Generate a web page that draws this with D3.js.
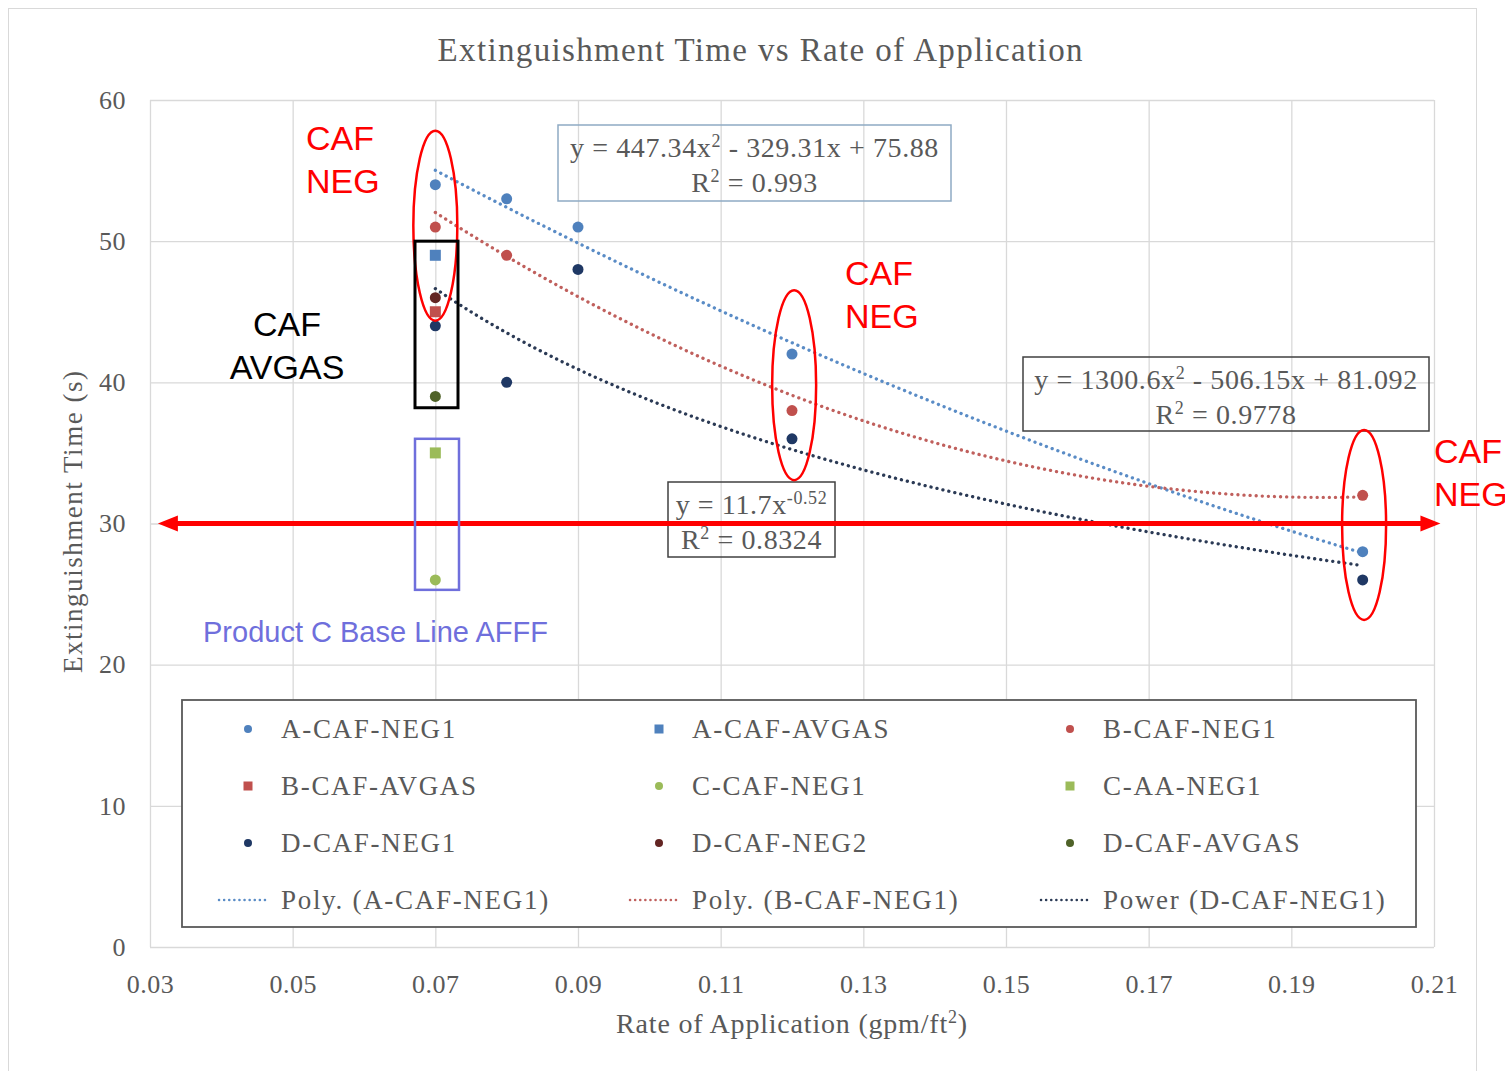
<!DOCTYPE html>
<html>
<head>
<meta charset="utf-8">
<script src="https://cdn.jsdelivr.net/npm/d3@7"></script>
<style>
  body { margin: 0; background: #fff; }
  svg { display: block; }
</style>
</head>
<body>
<div id="chart"></div>
<script>
'use strict'

// Canvas
const width = 1505,
  height = 1071,
  plotLeft = 150,
  plotRight = 1434,
  plotTop = 100,
  plotBottom = 947

// Data
const xTicks = [0.03, 0.05, 0.07, 0.09, 0.11, 0.13, 0.15, 0.17, 0.19, 0.21]
const yTicks = [0, 10, 20, 30, 40, 50, 60]

const aNegX = [0.07, 0.08, 0.09, 0.12, 0.2]
const aNegY = [54, 53, 51, 42, 28]
const aAvgasX = [0.07]
const aAvgasY = [49]
const bNegX = [0.07, 0.08, 0.12, 0.2]
const bNegY = [51, 49, 38, 32]
const bAvgasX = [0.07]
const bAvgasY = [45]
const cNegX = [0.07]
const cNegY = [26]
const cAaX = [0.07]
const cAaY = [35]
const dNegX = [0.07, 0.08, 0.09, 0.12, 0.2]
const dNegY = [44, 40, 48, 36, 26]
const dNeg2X = [0.07]
const dNeg2Y = [46]
const dAvgasX = [0.07]
const dAvgasY = [39]

// trendline equations as printed on the chart
const polyA = [447.34, -329.31, 75.88]
const polyB = [1300.6, -506.15, 81.092]
const powerD = [11.7, -0.52]
const trendRange = [0.07, 0.2]

const series = [
  { name: 'A-CAF-NEG1', x: aNegX, y: aNegY, shape: 'circle', color: '#4f81bd' },
  { name: 'A-CAF-AVGAS', x: aAvgasX, y: aAvgasY, shape: 'square', color: '#4f81bd' },
  { name: 'B-CAF-NEG1', x: bNegX, y: bNegY, shape: 'circle', color: '#c0504d' },
  { name: 'B-CAF-AVGAS', x: bAvgasX, y: bAvgasY, shape: 'square', color: '#c0504d' },
  { name: 'C-CAF-NEG1', x: cNegX, y: cNegY, shape: 'circle', color: '#9bbb59' },
  { name: 'C-AA-NEG1', x: cAaX, y: cAaY, shape: 'square', color: '#9bbb59' },
  { name: 'D-CAF-NEG1', x: dNegX, y: dNegY, shape: 'circle', color: '#1f3864' },
  { name: 'D-CAF-NEG2', x: dNeg2X, y: dNeg2Y, shape: 'circle', color: '#632523' },
  { name: 'D-CAF-AVGAS', x: dAvgasX, y: dAvgasY, shape: 'circle', color: '#4f6228' }
]

const trends = [
  { name: 'Poly. (A-CAF-NEG1)', f: x => polyA[0] * x * x + polyA[1] * x + polyA[2], color: '#5a8cc6' },
  { name: 'Poly. (B-CAF-NEG1)', f: x => polyB[0] * x * x + polyB[1] * x + polyB[2], color: '#c0605d' },
  { name: 'Power (D-CAF-NEG1)', f: x => powerD[0] * Math.pow(x, powerD[1]), color: '#2b3a55' }
]

const serif = '"Liberation Serif", "Times New Roman", serif'
const sans = '"Liberation Sans", Arial, sans-serif'
const textGray = '#595959'

let svg = d3.select('#chart')
  .append('svg')
  .attr('width', width)
  .attr('height', height)

// chart frame
svg.append('rect')
  .attr('x', 8.5).attr('y', 8.5)
  .attr('width', 1468).attr('height', 1090)
  .attr('fill', '#fff')
  .attr('stroke', '#d9d9d9')

const xScale = d3.scaleLinear().domain([0.03, 0.21]).range([plotLeft, plotRight])
const yScale = d3.scaleLinear().domain([0, 60]).range([plotBottom, plotTop])

// grid
svg.append('g')
  .attr('transform', `translate(0, ${plotBottom})`)
  .call(d3.axisBottom(xScale).tickValues(xTicks).tickSize(-(plotBottom - plotTop)).tickFormat(d3.format('.2f')))
  .call(g => g.select('.domain').remove())
  .call(g => g.selectAll('line').attr('stroke', '#d9d9d9').attr('stroke-width', 1.3))
  .call(g => g.selectAll('text')
    .attr('y', 28).attr('dy', '0.71em')
    .attr('font-family', serif).attr('font-size', 26).attr('letter-spacing', 0.5)
    .attr('fill', textGray))

svg.append('g')
  .attr('transform', `translate(${plotLeft}, 0)`)
  .call(d3.axisLeft(yScale).tickValues(yTicks).tickSize(-(plotRight - plotLeft)).tickPadding(24))
  .call(g => g.select('.domain').remove())
  .call(g => g.selectAll('line').attr('stroke', '#d9d9d9').attr('stroke-width', 1.3))
  .call(g => g.selectAll('text')
    .attr('font-family', serif).attr('font-size', 26).attr('letter-spacing', 0.5)
    .attr('fill', textGray))

// title + axis titles
svg.append('text')
  .attr('x', 760).attr('y', 61)
  .attr('text-anchor', 'middle')
  .attr('font-family', serif).attr('font-size', 33)
  .attr('textLength', 645).attr('lengthAdjust', 'spacing')
  .attr('fill', textGray)
  .text('Extinguishment Time vs Rate of Application')

svg.append('text')
  .attr('transform', 'translate(82, 522) rotate(-90)')
  .attr('text-anchor', 'middle')
  .attr('font-family', serif).attr('font-size', 27)
  .attr('textLength', 302).attr('lengthAdjust', 'spacing')
  .attr('fill', textGray)
  .text('Extinguishment Time (s)')

// text with superscripts: parts are plain strings or {sup: '...'}
let richText = (sel, parts, supSize) => {
  let raised = false
  parts.forEach(p => {
    if (typeof p === 'object') {
      sel.append('tspan').attr('dy', -10).attr('font-size', supSize).text(p.sup)
      raised = true
    } else {
      const ts = sel.append('tspan').text(p)
      if (raised) { ts.attr('dy', 10); raised = false }
    }
  })
}

const xTitle = svg.append('text')
  .attr('x', 792).attr('y', 1033)
  .attr('text-anchor', 'middle')
  .attr('font-family', serif).attr('font-size', 28).attr('letter-spacing', 0.8)
  .attr('fill', textGray)
richText(xTitle, ['Rate of Application (gpm/ft', { sup: '2' }, ')'], 18)

// trendlines
const line = d3.line().x(d => xScale(d[0])).y(d => yScale(d[1])).curve(d3.curveLinear)
trends.forEach(t => {
  const pts = d3.range(trendRange[0], trendRange[1] + 0.0001, 0.001).map(x => [x, t.f(x)])
  svg.append('path')
    .attr('d', line(pts))
    .attr('fill', 'none')
    .attr('stroke', t.color)
    .attr('stroke-width', 3.3)
    .attr('stroke-linecap', 'round')
    .attr('stroke-dasharray', '0.1,6')
})

// markers
let drawMarker = (g, shape, color, cx, cy, size) => {
  if (shape === 'circle') {
    g.append('circle').attr('cx', cx).attr('cy', cy).attr('r', size / 2).attr('fill', color)
  } else {
    g.append('rect').attr('x', cx - size / 2).attr('y', cy - size / 2)
      .attr('width', size).attr('height', size).attr('fill', color)
  }
}

series.forEach(s => {
  const g = svg.append('g')
  s.x.forEach((x, i) => {
    drawMarker(g, s.shape, s.color, xScale(x), yScale(s.y[i]), 11)
  })
})

// equation boxes
let eqBox = (x, y, w, h, stroke, lines) => {
  svg.append('rect')
    .attr('x', x).attr('y', y).attr('width', w).attr('height', h)
    .attr('fill', 'none').attr('stroke', stroke).attr('stroke-width', 1.5)
  lines.forEach((ln, i) => {
    const t = svg.append('text')
      .attr('x', x + w / 2).attr('y', y + 32 + i * 35)
      .attr('text-anchor', 'middle')
      .attr('font-family', serif).attr('font-size', 28).attr('letter-spacing', 0.6)
      .attr('fill', textGray)
    richText(t, ln, 18)
  })
}

eqBox(558, 125, 393, 76, '#8eaac4', [
  ['y = 447.34x', { sup: '2' }, '  - 329.31x + 75.88'],
  ['R', { sup: '2' }, ' = 0.993']
])
eqBox(1023, 357, 406, 74, '#404040', [
  ['y = 1300.6x', { sup: '2' }, '  - 506.15x + 81.092'],
  ['R', { sup: '2' }, ' = 0.9778']
])
eqBox(668, 482, 167, 75, '#404040', [
  ['y = 11.7x', { sup: '-0.52' }],
  ['R', { sup: '2' }, ' = 0.8324']
])

// legend
svg.append('rect')
  .attr('x', 182).attr('y', 700).attr('width', 1234).attr('height', 227)
  .attr('fill', '#fff').attr('stroke', '#595959').attr('stroke-width', 1.8)

const legendCols = [248, 659, 1070]
const legendRows = [729, 786, 843, 900]
const legendItems = series.map(s => ({ name: s.name, shape: s.shape, color: s.color }))
  .concat(trends.map(t => ({ name: t.name, shape: 'line', color: t.color })))

legendItems.forEach((item, i) => {
  const cx = legendCols[i % 3], cy = legendRows[Math.floor(i / 3)]
  const g = svg.append('g')
  if (item.shape === 'line') {
    g.append('line')
      .attr('x1', cx - 29).attr('x2', cx + 22).attr('y1', cy).attr('y2', cy)
      .attr('stroke', item.color).attr('stroke-width', 2.5)
      .attr('stroke-linecap', 'round').attr('stroke-dasharray', '0.1,5')
  } else {
    drawMarker(g, item.shape, item.color, cx, cy, item.shape === 'circle' ? 8 : 9)
  }
  g.append('text')
    .attr('x', cx + 33).attr('y', cy + 9)
    .attr('font-family', serif).attr('font-size', 27).attr('letter-spacing', 1.7)
    .attr('fill', textGray)
    .text(item.name)
})

// annotations
const red = '#ff0000'

// baseline arrow at 30 s
const arrowY = yScale(30), ax0 = xScale(0.0311), ax1 = xScale(0.2109)
svg.append('line')
  .attr('x1', ax0 + 12).attr('x2', ax1 - 12).attr('y1', arrowY).attr('y2', arrowY)
  .attr('stroke', red).attr('stroke-width', 5)
svg.append('path')
  .attr('d', `M${ax0},${arrowY} L${ax0 + 20},${arrowY - 8} L${ax0 + 20},${arrowY + 8} Z`)
  .attr('fill', red)
svg.append('path')
  .attr('d', `M${ax1},${arrowY} L${ax1 - 20},${arrowY - 8} L${ax1 - 20},${arrowY + 8} Z`)
  .attr('fill', red)

const ellipses = [
  { x: 0.07, y: 51.1 },
  { x: 0.1203, y: 39.8 },
  { x: 0.2002, y: 29.9 }
]
ellipses.forEach(e => {
  svg.append('ellipse')
    .attr('cx', xScale(e.x)).attr('cy', yScale(e.y))
    .attr('rx', 22).attr('ry', 95)
    .attr('fill', 'none').attr('stroke', red).attr('stroke-width', 2.5)
})

// AVGAS box and product C box
svg.append('rect')
  .attr('x', 415).attr('y', yScale(50)).attr('width', 43).attr('height', yScale(38.2) - yScale(50))
  .attr('fill', 'none').attr('stroke', '#000').attr('stroke-width', 3)
svg.append('rect')
  .attr('x', 415).attr('y', yScale(36)).attr('width', 44).attr('height', yScale(25.3) - yScale(36))
  .attr('fill', 'none').attr('stroke', '#6f6fdc').attr('stroke-width', 2.5)

let label = (x, y, lines, color, anchor) => {
  lines.forEach((l, i) => {
    svg.append('text')
      .attr('x', x).attr('y', y + i * 43)
      .attr('text-anchor', anchor || 'start')
      .attr('font-family', sans).attr('font-size', 34)
      .attr('fill', color)
      .text(l)
  })
}
label(306, 150, ['CAF', 'NEG'], red)
label(845, 285, ['CAF', 'NEG'], red)
label(1434, 463, ['CAF', 'NEG'], red)
label(287, 336, ['CAF', 'AVGAS'], '#000', 'middle')

svg.append('text')
  .attr('x', 203).attr('y', 642)
  .attr('font-family', sans).attr('font-size', 29)
  .attr('fill', '#6f6fdc')
  .text('Product C Base Line AFFF')
</script>
</body>
</html>
